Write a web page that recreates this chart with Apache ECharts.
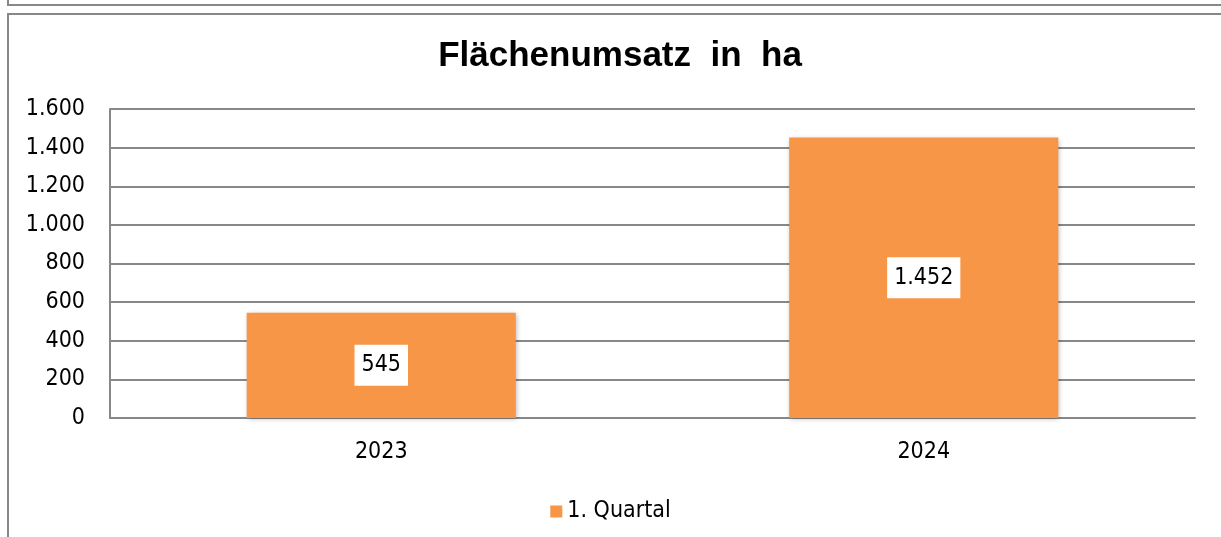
<!DOCTYPE html>
<html>
<head>
<meta charset="utf-8">
<script src="https://cdn.jsdelivr.net/npm/echarts@6/dist/echarts.min.js"></script>
<style>
    html, body { margin: 0; padding: 0; background: #fff; }
    #top { position: absolute; left: 7px; top: -4px; width: 1220px; height: 10px; border: 2px solid #888; box-sizing: border-box; }
    #frame { position: absolute; left: 7px; top: 13px; width: 1220px; height: 530px; border: 2px solid #888; box-sizing: border-box; }
    #main { position: absolute; left: 0; top: 0; width: 1221px; height: 537px; }
</style>
</head>
<body>
<div id="top"></div>
<div id="frame"></div>
<div id="main"></div>
<script>
var years = ['2023', '2024'];
var q1 = [545, 1452];
var seriesName = '1. Quartal';

var labelFont = 'Liberation Sans Narrow, DejaVu Sans Condensed, Roboto';

function deNum(v) {
    return String(v).replace(/\B(?=(\d{3})+(?!\d))/g, '.');
}

var myChart = echarts.init(document.getElementById('main'));

var option = {
    animation: false,
    title: {
        text: 'Flächenumsatz  in  ha',
        left: 615,
        textAlign: 'center',
        top: 34,
        textStyle: {
            fontFamily: 'Liberation Sans',
            fontSize: 35,
            fontWeight: 'bold',
            color: '#000'
        }
    },
    legend: {
        data: [seriesName],
        left: 'center',
        top: 495,
        itemWidth: 12,
        itemHeight: 12,
        icon: 'rect',
        itemGap: 6,
        textStyle: {
            fontFamily: labelFont,
            fontSize: 23,
            color: '#000'
        }
    },
    grid: {
        left: 110,
        right: 26,
        top: 109,
        bottom: 119
    },
    xAxis: {
        type: 'category',
        data: years,
        axisLine: { lineStyle: { color: '#888', width: 2 } },
        axisTick: { show: false },
        axisLabel: {
            margin: 23,
            fontFamily: labelFont,
            fontSize: 23,
            color: '#000'
        }
    },
    yAxis: {
        type: 'value',
        min: 0,
        max: 1600,
        interval: 200,
        axisLine: { show: true, lineStyle: { color: '#888', width: 2 } },
        axisTick: { show: false },
        splitLine: { lineStyle: { color: '#888', width: 2 } },
        axisLabel: {
            margin: 25,
            fontFamily: labelFont,
            fontSize: 23,
            color: '#000',
            formatter: deNum
        }
    },
    series: [{
        name: seriesName,
        type: 'bar',
        data: q1,
        barWidth: '49.6%',
        itemStyle: {
            color: '#F79646',
            shadowBlur: 5,
            shadowColor: 'rgba(0,0,0,0.3)',
            shadowOffsetX: 1,
            shadowOffsetY: 1
        },
        label: {
            show: true,
            position: 'inside',
            formatter: function (p) { return deNum(p.value); },
            backgroundColor: '#fff',
            padding: [10, 7, 8, 7],
            fontFamily: labelFont,
            fontSize: 23,
            color: '#000'
        }
    }]
};

myChart.setOption(option);
</script>
</body>
</html>
